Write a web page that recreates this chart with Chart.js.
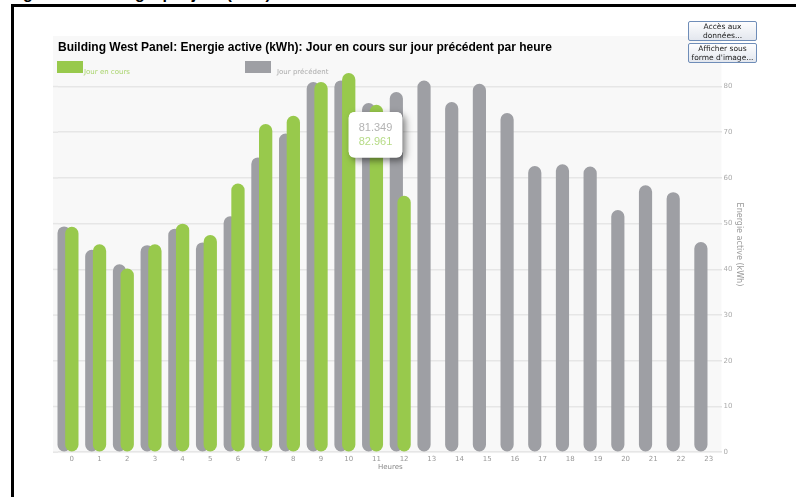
<!DOCTYPE html>
<html lang="fr">
<head>
<meta charset="utf-8">
<title>Energie active par heure</title>
<script src="https://cdn.jsdelivr.net/npm/chart.js@4.4.1/dist/chart.umd.min.js"></script>
<style>
  body { margin: 0; background: #fff; width: 796px; height: 497px; overflow: hidden; position: relative; }
  #topText { position: absolute; left: -2px; top: -15px; font: bold 16px "Liberation Sans", Arial, sans-serif; color: #000; white-space: nowrap; }
  #frame { position: absolute; left: 11px; top: 4px; right: -10px; bottom: -10px; border-left: 3px solid #000; border-top: 3px solid #000; pointer-events: none; }
  #wrap { position: absolute; left: 0; top: 0; width: 796px; height: 497px; }
  .btn {
    position: absolute; left: 688px; width: 69px; height: 20px; box-sizing: border-box;
    border: 1px solid #6f8db8; border-radius: 2px;
    background: linear-gradient(#fdfdfe, #e3e7ee);
    font: 7.5px "DejaVu Sans", Verdana, sans-serif; color: #222; text-align: center;
    line-height: 8.5px; padding-top: 1px;
  }
</style>
</head>
<body>
<div id="topText">Diagramme : Energie par jour (kWh)</div>
<div id="wrap"><canvas id="myChart"></canvas></div>
<div id="frame"></div>
<div class="btn" style="top:21px">Accès aux<br>données...</div>
<div class="btn" style="top:43px">Afficher sous<br>forme d'image...</div>
<script>
  // hours of the day
  var hours = ['0', '1', '2', '3', '4', '5', '6', '7', '8', '9', '10', '11',
    '12', '13', '14', '15', '16', '17', '18', '19', '20', '21', '22', '23'];
  // previous day, kWh per hour
  var jourPrecedent = [49.4, 44.3, 41.1, 45.3, 48.9, 45.9, 51.6, 64.5, 69.7, 81.0, 81.349, 76.4,
    78.8, 81.3, 76.6, 80.6, 74.2, 62.6, 63.0, 62.5, 53.0, 58.4, 56.9, 46.0];
  // current day, so far
  var jourEnCours = [49.3, 45.5, 40.2, 45.5, 50.0, 47.5, 58.8, 71.8, 73.6, 81.0, 82.961, 76.0, 56.1];
  var yTicksMax = 80;
  var hoverHour = 10;

  var green = '#98c94c';
  var grey = '#9e9fa4';

  Chart.defaults.font.family = "'DejaVu Sans', Verdana, sans-serif";

  // plot background + grid stub on the left
  var plotBg = {
    id: 'plotBg',
    beforeDraw: function (chart) {
      var ctx = chart.ctx, a = chart.chartArea;
      ctx.save();
      ctx.fillStyle = '#f8f8f8';
      ctx.fillRect(a.left - 5, 36, a.right - a.left + 4, a.bottom + 1 - 36);
      ctx.strokeStyle = '#e6e6e6';
      ctx.lineWidth = 1.5;
      var y = chart.scales.y;
      y.ticks.forEach(function (t) {
        var py = y.getPixelForValue(t.value);
        ctx.beginPath();
        ctx.moveTo(a.left - 5, py);
        ctx.lineTo(a.left, py);
        ctx.stroke();
      });
      ctx.restore();
    }
  };

  // legend row like the original (box + coloured text)
  var legendRow = {
    id: 'legendRow',
    afterDraw: function (chart) {
      var ctx = chart.ctx, a = chart.chartArea;
      var items = [
        { ds: chart.data.datasets[2], dx: -1, gap: 1, text: '#a9d46c' },
        { ds: chart.data.datasets[0], dx: 187, gap: 6, text: '#ababab' }
      ];
      ctx.save();
      ctx.font = "7px 'DejaVu Sans', Verdana, sans-serif";
      ctx.textBaseline = 'alphabetic';
      items.forEach(function (it) {
        var x = a.left + it.dx;
        ctx.fillStyle = it.ds.backgroundColor;
        ctx.fillRect(x, 61, 26, 12);
        ctx.fillStyle = it.text;
        ctx.fillText(it.ds.label, x + 26 + it.gap, 74);
      });
      ctx.restore();
    }
  };

  // soft shadow under the tooltip
  var tipShadow = {
    id: 'tipShadow',
    beforeTooltipDraw: function (chart, args) {
      var t = args.tooltip;
      if (!t.opacity) return;
      var ctx = chart.ctx;
      ctx.save();
      ctx.shadowColor = 'rgba(0,0,0,0.5)';
      ctx.shadowBlur = 7;
      ctx.shadowOffsetX = 3;
      ctx.shadowOffsetY = 3;
      ctx.fillStyle = '#fff';
      ctx.beginPath();
      ctx.roundRect(t.x, t.y, t.width, t.height, 6);
      ctx.fill();
      ctx.restore();
    }
  };

  Chart.Tooltip.positioners.besideBar = function (items) {
    if (!items.length) return false;
    var el = items[items.length - 1].element;
    return { x: el.x + 6, y: el.y + 39 };
  };

  var ctx = document.getElementById('myChart');
  var chart = new Chart(ctx, {
    type: 'bar',
    data: {
      labels: hours,
      datasets: [
        {
          label: 'Jour précédent',
          data: jourPrecedent,
          backgroundColor: grey,
          order: 1,
          categoryPercentage: 1.12,
          barPercentage: 0.85,
          borderRadius: 7,
          borderSkipped: false,
          clip: false
        },
        {
          // empty slot so the grey bars sit left of the hour
          label: '',
          data: [],
          order: 2,
          categoryPercentage: 1.12,
          barPercentage: 0.85
        },
        {
          label: 'Jour en cours',
          data: jourEnCours,
          backgroundColor: green,
          order: 0,
          grouped: false,
          categoryPercentage: 1,
          barPercentage: 0.48,
          borderRadius: 7,
          borderSkipped: false,
          clip: false
        }
      ]
    },
    options: {
      responsive: true,
      maintainAspectRatio: false,
      animation: false,
      events: [],
      layout: { padding: { left: 58, right: 45, top: 0, bottom: 26 } },
      plugins: {
        legend: { display: false },
        title: {
          display: true,
          text: 'Building West Panel: Energie active (kWh): Jour en cours sur jour précédent par heure',
          align: 'start',
          color: '#000',
          font: { family: "'Liberation Sans', Arial, sans-serif", size: 12, weight: 'bold' },
          padding: { top: 40, bottom: 23 }
        },
        tooltip: {
          enabled: true,
          position: 'besideBar',
          xAlign: 'left',
          yAlign: 'top',
          caretSize: 0,
          caretPadding: 0,
          backgroundColor: '#fff',
          borderWidth: 0,
          cornerRadius: 6,
          displayColors: false,
          padding: { x: 10, y: 9 },
          bodyFont: { family: "'Liberation Sans', Arial, sans-serif", size: 11 },
          bodySpacing: 1,
          callbacks: {
            title: function () { return ''; },
            label: function (c) { return c.parsed.y.toFixed(3); },
            labelTextColor: function (c) { return c.datasetIndex === 2 ? '#b6db86' : '#b3b3b3'; }
          }
        }
      },
      scales: {
        x: {
          type: 'category',
          offset: true,
          grid: { display: false, drawTicks: false },
          border: { display: false },
          ticks: { color: '#999', font: { size: 7 }, padding: 3, maxRotation: 0, autoSkip: false },
          title: { display: true, text: 'Heures', color: '#888', font: { size: 7 }, padding: { top: -4, bottom: 0 } }
        },
        y: {
          position: 'right',
          min: 0,
          max: 82,
          afterBuildTicks: function (axis) {
            axis.ticks = axis.ticks.filter(function (t) { return t.value <= yTicksMax; });
          },
          grid: { color: '#e6e6e6', lineWidth: 1.5, drawTicks: false },
          border: { display: false },
          ticks: { stepSize: 10, color: '#aaa', font: { size: 7 }, padding: 1 },
          title: {
            display: true,
            // trailing spaces lift the title a little, as in the original
            text: 'Energie active (kWh)\u00a0\u00a0\u00a0\u00a0\u00a0\u00a0\u00a0\u00a0\u00a0\u00a0\u00a0\u00a0\u00a0\u00a0\u00a0\u00a0',
            color: '#999',
            font: { size: 8 },
            padding: { top: 7, bottom: 1 }
          }
        }
      }
    },
    plugins: [plotBg, legendRow, tipShadow]
  });

  chart.tooltip.setActiveElements([
    { datasetIndex: 0, index: hoverHour },
    { datasetIndex: 2, index: hoverHour }
  ], { x: 0, y: 0 });
  chart.update();
</script>
</body>
</html>
